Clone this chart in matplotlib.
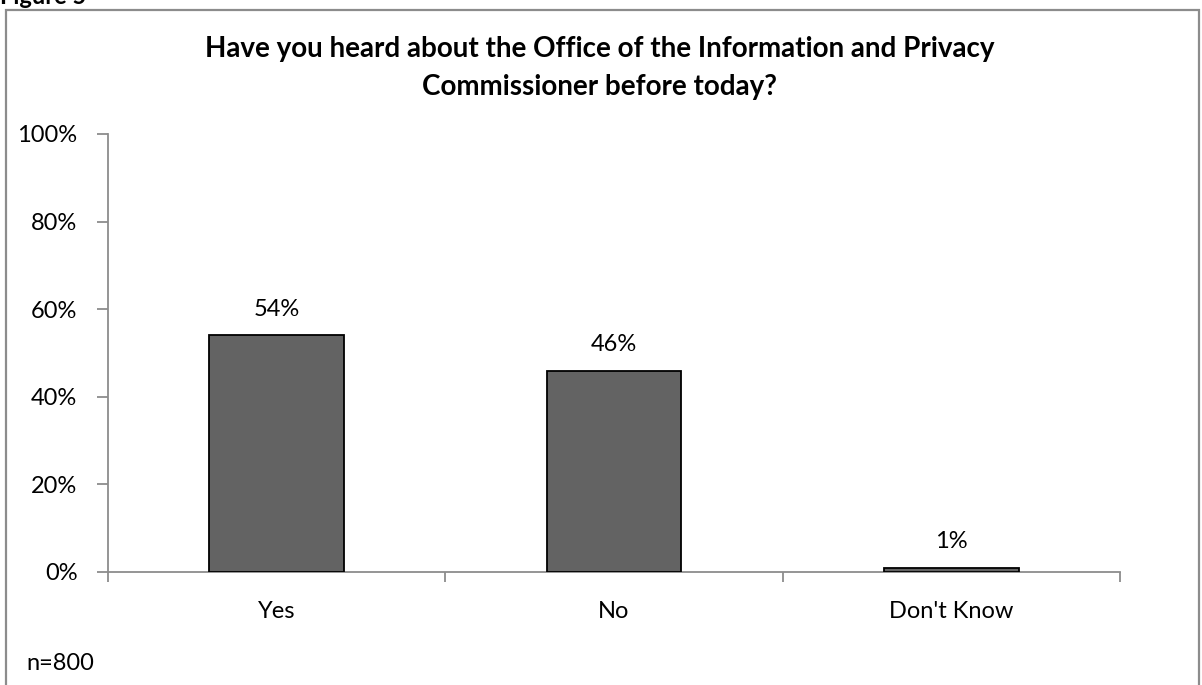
import matplotlib
matplotlib.use("Agg")
import matplotlib.pyplot as plt
from matplotlib.patches import Rectangle
from matplotlib.ticker import FixedLocator

plt.rcParams['font.family'] = ['Lato', 'DejaVu Sans']

categories = ["Yes", "No", "Don't Know"]
values = [54, 46, 1]
y_ticks = [0, 20, 40, 60, 80, 100]
title = "Have you heard about the Office of the Information and Privacy\nCommissioner before today?"

W, H = 1202, 685
fig = plt.figure(figsize=(W / 100, H / 100), dpi=100)

# outer frame (bottom is cut off in the original)
fig.patches.append(Rectangle((6 / W, -0.05), 1193 / W, 1.05 - 10 / H,
                             transform=fig.transFigure, fill=False,
                             edgecolor="#8c8c8c", linewidth=1.6))
# caption above the frame, cropped at the top like the original
fig.text(0.0, 1 - 4 / H, "Figure 5", fontsize=17, fontweight="bold",
         va="baseline", ha="left")

ax = fig.add_axes([108 / W, (H - 572) / H, (1120 - 108) / W, (572 - 134) / H])
x = list(range(len(categories)))
ax.bar(x, values, width=0.4, color="#636363", edgecolor="black", linewidth=1.3, zorder=3)

for xi, v in zip(x, values):
    ax.annotate(f"{v}%", (xi, v), xytext=(0, 19), textcoords="offset points",
                ha="center", va="center", fontsize=17)

ax.set_xlim(-0.5, len(categories) - 0.5)
ax.set_ylim(0, 100)
ax.set_yticks(y_ticks)
ax.set_yticklabels([f"{t}%" for t in y_ticks])
ax.set_xticks(x)
ax.set_xticklabels(categories)
ax.xaxis.set_minor_locator(FixedLocator([i - 0.5 for i in range(len(categories) + 1)]))
ax.tick_params(axis="x", which="major", length=0, pad=21, labelsize=17)
ax.tick_params(axis="x", which="minor", length=7, color="#8c8c8c", width=1.3)
ax.tick_params(axis="y", length=8, color="#8c8c8c", width=1.3, pad=14, labelsize=17)

for s in ["top", "right"]:
    ax.spines[s].set_visible(False)
for s in ["left", "bottom"]:
    ax.spines[s].set_color("#8c8c8c")
    ax.spines[s].set_linewidth(1.3)

fig.text(600 / W, 1 - 68 / H, title, ha="center", va="center",
         fontsize=20, fontweight="bold", linespacing=1.55)
fig.text(26 / W, 1 - 663 / H, "n=800", ha="left", va="center", fontsize=17)

fig.savefig("out.png", dpi=100)
